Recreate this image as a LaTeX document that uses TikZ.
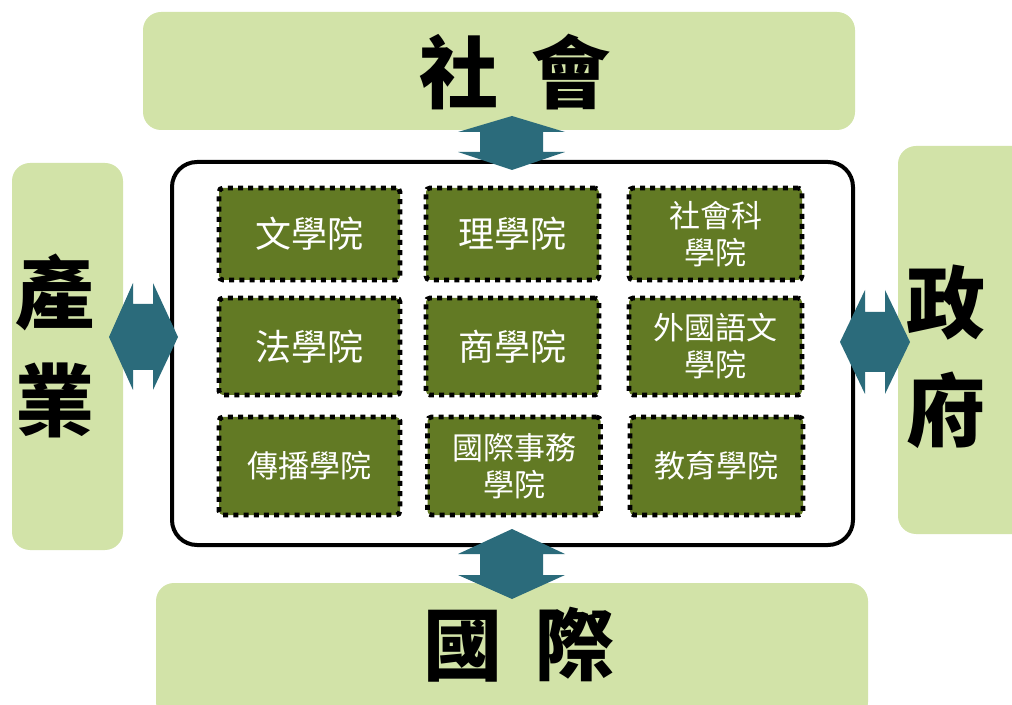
\documentclass[tikz,border=0pt]{standalone}
\usepackage{fontspec}
\newfontfamily\cjk{Noto Sans CJK TC}
\newfontfamily\cjkbig[WordSpace=1.8]{Noto Sans CJK TC}
\definecolor{panelgreen}{HTML}{D2E3A8}
\definecolor{collegegreen}{HTML}{627A24}
\definecolor{arrowteal}{HTML}{2B6B7B}
\tikzset{
  panel/.style={fill=panelgreen, rounded corners=9pt},
  college/.style={fill=collegegreen, draw=black, line width=2.4pt,
    dash pattern=on 2.5pt off 2.6pt, rounded corners=2pt, text=white,
    font=\cjk\fontsize{18}{20}\selectfont, align=center, inner sep=0pt},
  smallcollege/.style={college, font=\cjk\fontsize{15.5}{18.5}\selectfont},
  biglabel/.style={font=\cjkbig\bfseries\fontsize{39.5}{54}\selectfont,
    align=center, inner sep=0pt},
  blockarrow/.style={fill=arrowteal}
}
\begin{document}
\begin{tikzpicture}[x=0.5pt,y=-0.5pt]
	\useasboundingbox (0,0) rectangle (1012,705);
	% outer panels
	\fill[panel] (143,12) rectangle (855,130);
	\fill[panel] (156,583) rectangle (868,720);
	\fill[panel] (12,163) rectangle (123,550);
	\fill[panel] (898,146) rectangle (1030,534);
	% university box
	\draw[line width=2pt, rounded corners=12.5pt] (172,162) rectangle (853,545);
	% colleges
	\node[college, minimum width=90.5pt, minimum height=46pt] (lit) at (309.5,234) {文學院};
	\node[college, minimum width=86.5pt, minimum height=46pt] (sci) at (512.5,234) {理學院};
	\node[smallcollege, minimum width=86.5pt, minimum height=46pt] (soc) at (715.5,234) {社會科\\學院};
	\node[college, minimum width=90.5pt, minimum height=48.5pt] (law) at (309.5,346.5) {法學院};
	\node[college, minimum width=86.5pt, minimum height=48.5pt] (com) at (512.5,346.5) {商學院};
	\node[smallcollege, minimum width=86.5pt, minimum height=48.5pt] (lang) at (715.5,346.5) {外國語文\\學院};
	\node[smallcollege, minimum width=90.5pt, minimum height=49pt] (comm) at (309.5,466) {傳播學院};
	\node[smallcollege, minimum width=86.5pt, minimum height=49pt] (ia) at (514,466) {國際事務\\學院};
	\node[smallcollege, minimum width=86.5pt, minimum height=49pt] (edu) at (716.5,466) {教育學院};
	% double arrows
	\fill[blockarrow] (109,337) -- (133,283) -- (133,304) -- (153,304) -- (153,283) -- (178,337)
		-- (153,390) -- (153,370) -- (133,370) -- (133,390) -- cycle;
	\fill[blockarrow] (840,342) -- (865,290) -- (865,312) -- (885,312) -- (885,290) -- (910,342)
		-- (885,394) -- (885,372) -- (865,372) -- (865,394) -- cycle;
	\fill[blockarrow] (512,116) -- (565,132) -- (543,132) -- (543,152) -- (565,152) -- (512,170)
		-- (458,152) -- (480,152) -- (480,132) -- (458,132) -- cycle;
	\fill[blockarrow] (512,529) -- (565,554) -- (543,554) -- (543,575) -- (565,575) -- (512,599)
		-- (458,575) -- (480,575) -- (480,554) -- (458,554) -- cycle;
	% outer labels
	\node[biglabel] (society) at (515,72) {社 會};
	\node[biglabel] (intl) at (519,645) {國 際};
	\node[biglabel] (industry) at (55,346) {產\\業};
	\node[biglabel] (govt) at (946,357) {政\\府};
\end{tikzpicture}
\end{document}
